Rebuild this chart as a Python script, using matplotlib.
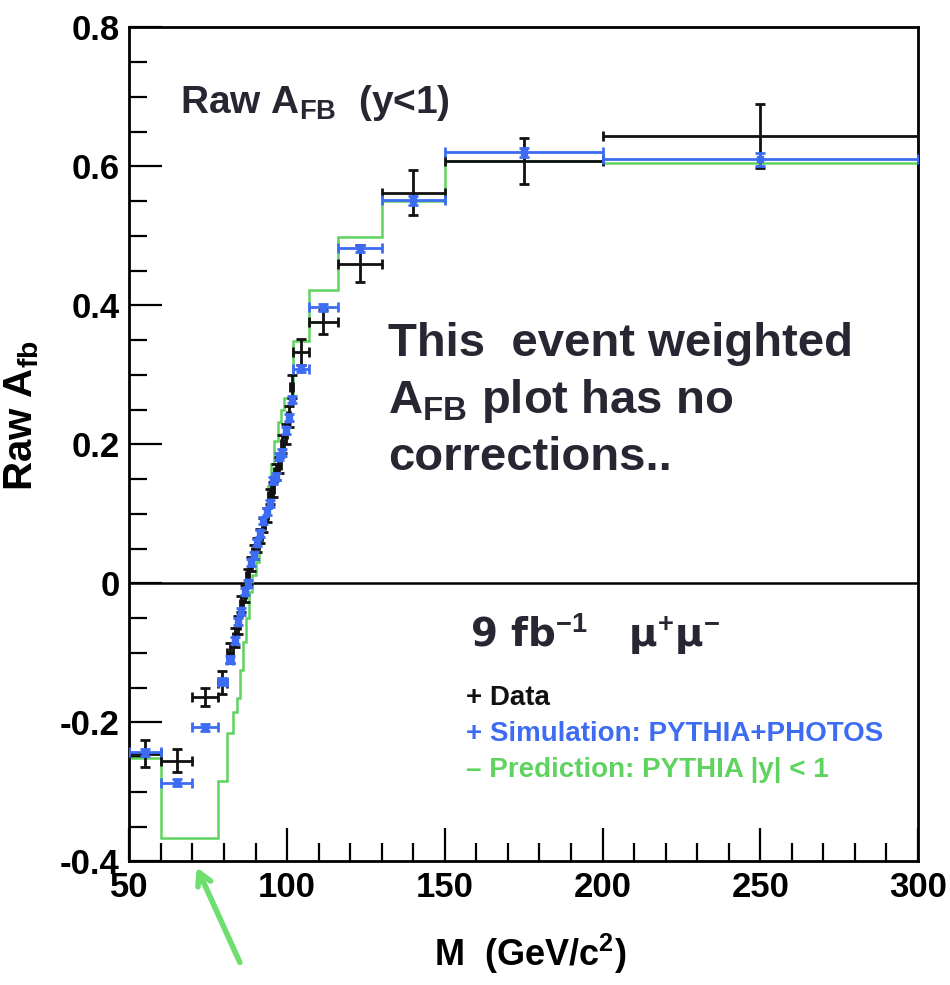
import numpy as np
import matplotlib
matplotlib.use("Agg")
import matplotlib.pyplot as plt
from matplotlib.ticker import MultipleLocator, FuncFormatter

plt.rcParams['font.family'] = ['Liberation Sans', 'DejaVu Sans']
plt.rcParams['mathtext.fontset'] = 'custom'
plt.rcParams['mathtext.rm'] = 'Liberation Sans:bold'
plt.rcParams['mathtext.bf'] = 'Liberation Sans:bold'
plt.rcParams['axes.unicode_minus'] = False

# mass bins (GeV/c^2)
edges = [50, 60, 70, 78, 81, 83, 84, 85, 86, 87, 88, 89, 90, 91, 92, 93, 94, 95,
         96, 97, 98, 99, 100, 101, 102, 107, 116, 130, 150, 200, 300]

data_afb = [-0.245, -0.255, -0.164, -0.143, -0.100, -0.078, -0.060, -0.030, -0.015,
            0.010, 0.028, 0.045, 0.055, 0.068, 0.084, 0.098, 0.125, 0.135, 0.160,
            0.170, 0.200, 0.215, 0.240, 0.283, 0.333, 0.376, 0.460, 0.562, 0.608, 0.643]
data_err = [0.019, 0.017, 0.013, 0.017, 0.014, 0.013, 0.013, 0.012, 0.012, 0.011,
            0.010, 0.010, 0.010, 0.010, 0.010, 0.010, 0.011, 0.011, 0.012, 0.012,
            0.013, 0.014, 0.015, 0.016, 0.019, 0.017, 0.027, 0.032, 0.033, 0.046]

sim_afb = [-0.243, -0.287, -0.207, -0.142, -0.110, -0.082, -0.055, -0.040, -0.012,
           0.000, 0.030, 0.040, 0.058, 0.072, 0.090, 0.103, 0.115, 0.148, 0.153,
           0.182, 0.188, 0.220, 0.238, 0.264, 0.309, 0.397, 0.482, 0.551, 0.620, 0.610]
sim_err = [0.005] * 27 + [0.006, 0.006, 0.009]

pred_afb = [-0.251, -0.367, -0.367, -0.284, -0.215, -0.185, -0.165, -0.125, -0.085,
            -0.050, -0.012, 0.012, 0.030, 0.058, 0.082, 0.108, 0.140, 0.172, 0.205,
            0.232, 0.250, 0.266, 0.266, 0.266, 0.348, 0.422, 0.498, 0.550, 0.607, 0.605]

legend_lines = ["+ Data", "+ Simulation: PYTHIA+PHOTOS", "\u2013 Prediction: PYTHIA |y| < 1"]
note_lines = ["This  event weighted", "A$_{\\mathbf{FB}}$ plot has no", "corrections.."]

black = "#111111"
blue = "#3d6cf2"
green = "#5fd35f"
textcol = "#272734"

edges_a = np.array(edges, dtype=float)
centers = 0.5 * (edges_a[1:] + edges_a[:-1])
halfw = 0.5 * (edges_a[1:] - edges_a[:-1])

fig = plt.figure(figsize=(9.5, 9.85), dpi=100)
ax = fig.add_axes([0.1362, 0.1256, 0.8301, 0.8467])

ax.stairs(pred_afb, edges, color=green, lw=1.8, zorder=2)
ax.axhline(0, color="black", lw=1.8, zorder=1)
ax.errorbar(centers, data_afb, xerr=halfw, yerr=data_err, fmt="none", ecolor=black,
            elinewidth=2.0, capsize=3.5, capthick=2.0, zorder=3)
ax.errorbar(centers, sim_afb, xerr=halfw, yerr=sim_err, fmt="s", ms=4, color=blue,
            ecolor=blue, elinewidth=2.0, capsize=3.5, capthick=2.0, zorder=4)

ax.set_xlim(50, 300)
ax.set_ylim(-0.4, 0.8)
ax.xaxis.set_major_locator(MultipleLocator(50))
ax.xaxis.set_minor_locator(MultipleLocator(10))
ax.yaxis.set_major_locator(MultipleLocator(0.2))
ax.yaxis.set_minor_locator(MultipleLocator(0.05))
ax.yaxis.set_major_formatter(FuncFormatter(lambda v, p: f"{v:g}" if abs(v) > 1e-9 else "0"))
ax.tick_params(which="both", direction="in", top=False, right=False, width=1.6,
               labelsize=25)
ax.tick_params(which="major", length=24, pad=7)
ax.tick_params(which="minor", length=13)
for lab in ax.get_xticklabels() + ax.get_yticklabels():
    lab.set_fontweight("bold")
for s in ax.spines.values():
    s.set_linewidth(2)

ax.set_xlabel("M  (GeV/c$^{2}$)", fontsize=26, fontweight="bold", va="top")
ax.xaxis.set_label_coords(0.508, -0.085)
ax.set_ylabel("Raw A$_{\\mathbf{fb}}$", fontsize=29, fontweight="bold")
ax.yaxis.set_label_coords(-0.112, 0.535)

ax.text(0.064, 0.897, "Raw A$_{\\mathbf{FB}}$  (y<1)", transform=ax.transAxes,
        fontsize=28, fontweight="bold", color=textcol, va="baseline")
for i, line in enumerate(note_lines):
    ax.text(0.328, 0.606 - i * 0.0684, line, transform=ax.transAxes, fontsize=34,
            fontweight="bold", color=textcol, va="baseline")
ax.text(0.432, 0.257, "9 fb$^{-1}$   \u03bc$^{+}$\u03bc$^{-}$", transform=ax.transAxes,
        fontsize=28, fontweight="bold", color=textcol, va="baseline",
        family=["DejaVu Sans"])

for i, (line, col) in enumerate(zip(legend_lines, [black, blue, green])):
    ax.text(0.427, 0.1875 - i * 0.0432, line, transform=ax.transAxes, fontsize=20,
            fontweight="bold", color=col, va="baseline")

# arrow pointing at the low-mass prediction bin
ax.annotate("", xy=(71, -0.405), xycoords="data", xytext=(241, 20),
            textcoords="figure pixels", annotation_clip=False,
            arrowprops=dict(arrowstyle="->,head_length=0.9,head_width=0.5",
                            color="#6ede6e", lw=4))

fig.savefig("out.png", dpi=100)
